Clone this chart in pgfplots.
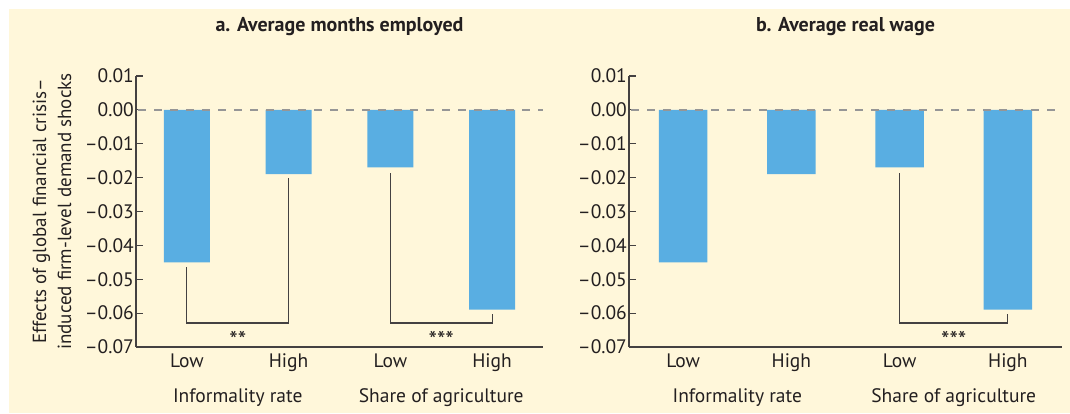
\documentclass[border=0pt]{standalone}
\usepackage{fontspec}
\setmainfont{PT Sans}
\usepackage{pgfplots}
\pgfplotsset{compat=1.18}
\definecolor{bg}{RGB}{255,247,218}
\definecolor{barblue}{RGB}{89,174,226}
\definecolor{txt}{RGB}{35,31,32}
\definecolor{dashg}{RGB}{150,150,150}
\newcommand{\tfont}{\fontsize{19.5}{22}\selectfont}
\pgfplotsset{
  panel/.style={
    scale only axis,
    height=271pt,
    anchor=south west,
    ymin=-0.07, ymax=0.01,
    xmin=-0.5, xmax=3.5,
    axis lines*=left,
    axis line style={-, line width=1.2pt, color=txt!85},
    tick align=inside,
    major tick length=7pt,
    every tick/.style={line width=1.2pt, color=txt!85},
    scaled y ticks=false,
    ytick={-0.07,-0.06,-0.05,-0.04,-0.03,-0.02,-0.01,0,0.01},
    yticklabels={–0.07,–0.06,–0.05,–0.04,–0.03,–0.02,–0.01,0.00,0.01},
    xtick={0,1,2,3},
    xticklabels={Low,High,Low,High},
    xtick style={draw=none},
    extra x ticks={-0.5,0.5,1.5,2.5,3.5},
    extra x tick labels={},
    extra x tick style={tick style={line width=1.2pt, color=txt!85}, major tick length=7pt},
    tick label style={font=\tfont, text=txt},
    yticklabel style={inner xsep=2pt},
    xticklabel style={yshift=-3pt},
    title style={at={(0.5,1)}, anchor=center, yshift=43pt, font=\fontsize{20}{24}\selectfont\bfseries, text=txt},
    clip=false,
  }
}
\begin{document}
\begin{tikzpicture}
\path (0,0) rectangle (1070pt,413pt);
\fill[bg] (9pt,0) rectangle (1070pt,404pt);
% Panel a
\begin{axis}[panel, at={(136pt,66pt)}, width=407pt, title={a. Average months employed}]
\addplot[ybar, fill=barblue, draw=none, bar width=0.45] coordinates {(0,-0.045) (1,-0.019) (2,-0.017) (3,-0.059)};
\addplot[dashg, line width=2.6pt, dash pattern=on 8pt off 8pt] coordinates {(-0.48,0) (3.5,0)};
\addplot[txt!85, line width=1.1pt, sharp plot] coordinates {(0,-0.0465) (0,-0.0629) (1,-0.0629) (1,-0.0200)};
\addplot[txt!85, line width=1.1pt, sharp plot] coordinates {(2,-0.0187) (2,-0.0629) (3,-0.0629) (3,-0.0603)};
\node[anchor=base, font=\fontsize{24}{24}\selectfont, text=txt] at ([yshift=-1pt]axis cs:0.5,-0.07) {**};
\node[anchor=base, font=\fontsize{24}{24}\selectfont, text=txt] at ([yshift=-1pt]axis cs:2.5,-0.07) {***};
\node[font=\tfont, text=txt] at ([yshift=-51pt]axis cs:0.5,-0.07) {Informality rate};
\node[font=\tfont, text=txt] at ([yshift=-51pt]axis cs:2.5,-0.07) {Share of agriculture};
\node[rotate=90, align=center, font=\fontsize{19}{25}\selectfont, text=txt] at ([xshift=-84pt]rel axis cs:0,0.5) {Effects of global financial crisis–\\induced firm-level demand shocks};
\end{axis}
% Panel b
\begin{axis}[panel, at={(629pt,66pt)}, width=433pt, title={b. Average real wage}]
\addplot[ybar, fill=barblue, draw=none, bar width=0.45] coordinates {(0,-0.045) (1,-0.019) (2,-0.017) (3,-0.059)};
\addplot[dashg, line width=2.6pt, dash pattern=on 8pt off 8pt] coordinates {(-0.48,0) (3.5,0)};
\addplot[txt!85, line width=1.1pt, sharp plot] coordinates {(2,-0.0187) (2,-0.0629) (3,-0.0629) (3,-0.0603)};
\node[anchor=base, font=\fontsize{24}{24}\selectfont, text=txt] at ([yshift=-1pt]axis cs:2.5,-0.07) {***};
\node[font=\tfont, text=txt] at ([yshift=-51pt]axis cs:0.5,-0.07) {Informality rate};
\node[font=\tfont, text=txt] at ([yshift=-51pt]axis cs:2.5,-0.07) {Share of agriculture};
\end{axis}
\end{tikzpicture}
\end{document}
